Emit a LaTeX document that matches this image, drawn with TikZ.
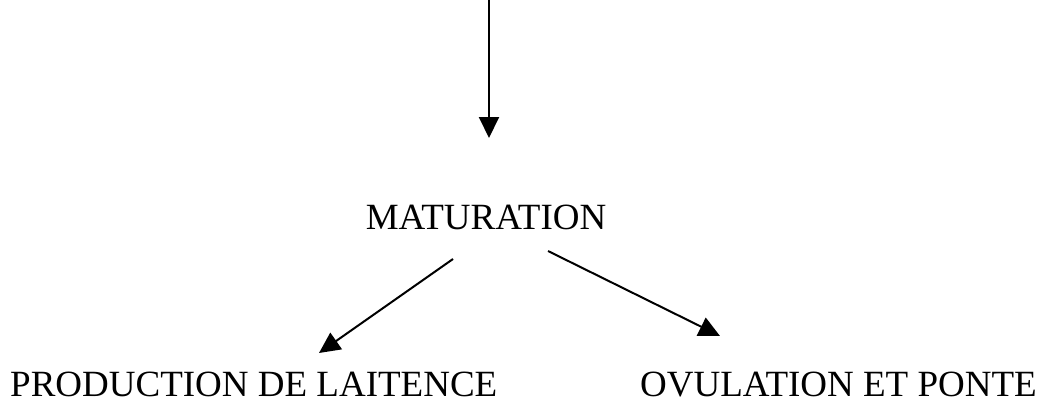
\documentclass[tikz,border=0pt]{standalone}
\usepackage{fontspec}
\setmainfont{Liberation Serif}
\usetikzlibrary{arrows.meta}
\begin{document}
\begin{tikzpicture}[x=1pt,y=-1pt,
  lbl/.style={inner sep=0pt,font=\fontsize{37}{40}\selectfont},
  arr/.style={line width=2pt,-{Triangle[length=21pt,width=20pt]}}]
\useasboundingbox (0,0) rectangle (1042,405);
\node[lbl,anchor=base] (mat) at (486,229) {MATURATION};
\node[lbl,anchor=base west] (prod) at (10,396) {PRODUCTION DE LAITENCE};
\node[lbl,anchor=base east] (ovu) at (1037,396) {OVULATION ET PONTE};
\coordinate (top) at (489,0);
\coordinate (vtip) at (489,138);
\coordinate (ls) at (453,259);
\coordinate (le) at (319,353);
\coordinate (rs) at (548,251);
\coordinate (re) at (720,336);
\draw[arr] (top) -- (vtip);
\draw[arr] (ls) -- (le);
\draw[arr] (rs) -- (re);
\end{tikzpicture}
\end{document}
